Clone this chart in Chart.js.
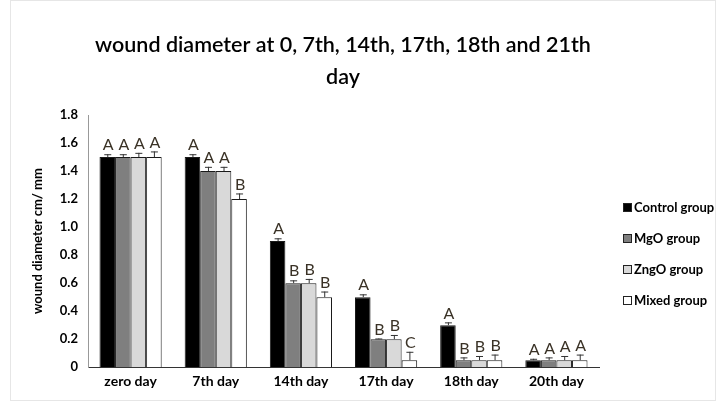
<!DOCTYPE html>
<html>
<head>
<meta charset="utf-8">
<script src="https://cdn.jsdelivr.net/npm/chart.js@4.4.0/dist/chart.umd.min.js"></script>
<style>
  html, body { margin: 0; padding: 0; background: #fff; }
  #wrap { width: 725px; height: 408px; position: relative; }
</style>
</head>
<body>
<div id="wrap"><canvas id="chart" width="725" height="408"></canvas></div>
<script>
const days = ["zero day", "7th day", "14th day", "17th day", "18th day", "20th day"];
const groupNames = ["Control group", "MgO group", "ZngO group", "Mixed group"];

const controlValues = [1.5, 1.5, 0.9, 0.5, 0.3, 0.05];
const mgoValues = [1.5, 1.4, 0.6, 0.2, 0.05, 0.05];
const zngoValues = [1.5, 1.4, 0.6, 0.2, 0.05, 0.05];
const mixedValues = [1.5, 1.2, 0.5, 0.05, 0.05, 0.05];

const controlErrors = [0.02, 0.02, 0.02, 0.02, 0.02, 0.01];
const mgoErrors = [0.02, 0.03, 0.02, 0.005, 0.02, 0.02];
const zngoErrors = [0.03, 0.03, 0.03, 0.03, 0.03, 0.03];
const mixedErrors = [0.04, 0.04, 0.04, 0.06, 0.04, 0.04];

const controlLetters = ["A", "A", "A", "A", "A", "A"];
const mgoLetters = ["A", "A", "B", "B", "B", "A"];
const zngoLetters = ["A", "A", "B", "B", "B", "A"];
const mixedLetters = ["A", "B", "B", "C", "B", "A"];

const yTicks = [0, 0.2, 0.4, 0.6, 0.8, 1, 1.2, 1.4, 1.6, 1.8];

const fillColors = ["#000000", "#7f7f7f", "#d9d9d9", "#ffffff"];
const allValues = [controlValues, mgoValues, zngoValues, mixedValues];
const allErrors = [controlErrors, mgoErrors, zngoErrors, mixedErrors];
const allLetters = [controlLetters, mgoLetters, zngoLetters, mixedLetters];

const FONT = "Lato, 'Open Sans', sans-serif";

// error bars and significance letters drawn on top of each bar
const errorBarPlugin = {
  id: "errorBars",
  afterDatasetsDraw(chart) {
    const ctx = chart.ctx;
    const yScale = chart.scales.y;
    ctx.save();
    chart.data.datasets.forEach((ds, di) => {
      const meta = chart.getDatasetMeta(di);
      meta.data.forEach((bar, i) => {
        const top = yScale.getPixelForValue(ds.data[i] + ds.errors[i]);
        ctx.strokeStyle = "#333";
        ctx.lineWidth = 1;
        ctx.beginPath();
        ctx.moveTo(bar.x + 0.5, bar.y);
        ctx.lineTo(bar.x + 0.5, top);
        ctx.moveTo(bar.x - 3, top + 0.5);
        ctx.lineTo(bar.x + 4, top + 0.5);
        ctx.stroke();
        ctx.fillStyle = "#3a3226";
        ctx.font = "16px " + FONT;
        ctx.textAlign = "center";
        ctx.textBaseline = "bottom";
        ctx.fillText(ds.letters[i], bar.x + 1, top - 1);
      });
    });
    ctx.restore();
  }
};

// title and legend placed like the original sheet
const decorPlugin = {
  id: "decor",
  afterDraw(chart) {
    const ctx = chart.ctx;
    ctx.save();
    ctx.fillStyle = "#000";
    ctx.font = "600 21.5px " + FONT;
    ctx.textAlign = "center";
    ctx.textBaseline = "middle";
    ctx.fillText("wound diameter at 0, 7th, 14th, 17th, 18th and 21th", 343, 45);
    ctx.fillText("day", 343, 77);

    ctx.font = "bold 13px " + FONT;
    ctx.textAlign = "left";
    chart.data.datasets.forEach((ds, i) => {
      const y = 208 + i * 31;
      ctx.fillStyle = ds.backgroundColor;
      ctx.fillRect(623, y - 5, 9, 9);
      ctx.strokeStyle = "#222";
      ctx.lineWidth = 1;
      ctx.strokeRect(623.5, y - 4.5, 8, 8);
      ctx.fillStyle = "#000";
      ctx.fillText(ds.label, 634, y);
    });

    ctx.strokeStyle = "#e6e6e6";
    ctx.strokeRect(10.5, 0.5, 705, 400);
    ctx.restore();
  }
};

const datasets = groupNames.map((name, i) => ({
  label: name,
  data: allValues[i],
  errors: allErrors[i],
  letters: allLetters[i],
  backgroundColor: fillColors[i],
  borderColor: "#1a1a1a",
  borderWidth: 1,
  categoryPercentage: 0.73,
  barPercentage: 1.0
}));

new Chart(document.getElementById("chart").getContext("2d"), {
  type: "bar",
  data: { labels: days, datasets: datasets },
  plugins: [errorBarPlugin, decorPlugin],
  options: {
    responsive: false,
    animation: false,
    layout: { padding: { top: 115, right: 126, left: 26, bottom: 12 } },
    plugins: {
      legend: { display: false },
      title: { display: false },
      tooltip: { enabled: false }
    },
    scales: {
      x: {
        grid: { display: false, drawTicks: false },
        border: { color: "#333", width: 1 },
        ticks: { color: "#000", font: { family: FONT, size: 14, weight: "bold" }, padding: 6 }
      },
      y: {
        min: 0,
        max: 1.8,
        afterBuildTicks(axis) {
          axis.ticks = yTicks.map((v) => ({ value: v }));
        },
        afterFit(axis) {
          axis.width = 62;
        },
        grid: { display: false, drawTicks: true, tickLength: 5, tickColor: "#999" },
        border: { color: "#999", width: 1 },
        ticks: { color: "#000", font: { family: FONT, size: 13, weight: "bold" }, padding: 5 },
        title: {
          display: true,
          text: "wound diameter cm/ mm",
          color: "#000",
          font: { family: FONT, size: 13, weight: "bold" },
          padding: 4
        }
      }
    }
  }
});
</script>
</body>
</html>
